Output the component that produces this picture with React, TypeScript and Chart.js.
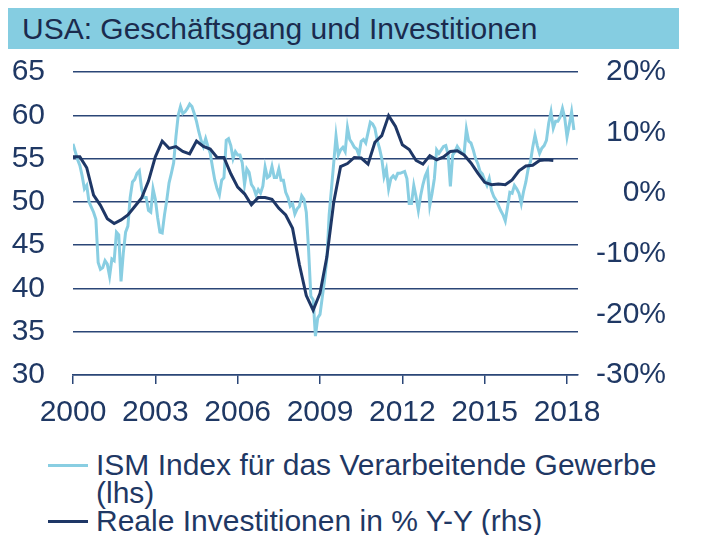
import { useEffect, useRef } from "react";
import { Chart, registerables } from "chart.js";

Chart.register(...registerables);

const TITLE = "USA: Geschäftsgang und Investitionen";
const LABEL_ISM = "ISM Index für das Verarbeitende Gewerbe (lhs)";
const LABEL_INV = "Reale Investitionen in % Y-Y (rhs)";

const START_YEAR = 2000;
const X_MAX = 2018.4;
const xTickYears = [2000, 2003, 2006, 2009, 2012, 2015, 2018];

// ISM manufacturing index, monthly from Jan 2000 (left axis)
const ismMonthly = [
  56.7, 55.8, 54.9, 54.2, 53.0, 51.5, 51.9, 50.0, 49.4, 48.8, 48.0, 43.0,
  42.2, 42.4, 43.2, 42.8, 41.4, 43.4, 43.2, 46.5, 46.2, 40.8, 44.1, 46.5,
  47.2, 50.5, 52.3, 52.6, 53.3, 53.6, 51.5, 50.5, 50.5, 49.0, 48.8, 51.5,
  50.3, 48.2, 46.5, 46.4, 48.5, 50.2, 52.2, 53.3, 54.5, 57.5, 60.0, 61.0,
  60.2, 60.4, 60.8, 61.3, 61.0, 60.2, 59.3, 58.1, 57.1, 56.4, 57.3, 56.4,
  55.6, 54.0, 52.5, 51.5, 50.8, 52.5, 52.8, 57.1, 57.3, 56.5, 55.0, 55.8,
  55.4, 55.4, 54.5, 52.0, 53.8, 53.4, 52.0, 51.6, 50.8, 51.4, 51.0, 51.8,
  54.0, 52.8, 53.0, 54.1, 52.8, 52.8, 53.8, 52.5, 52.5, 51.1, 50.5, 49.5,
  49.8, 48.6, 49.2, 49.5, 50.7, 50.3, 48.8, 44.5, 39.1, 38.7, 34.5, 36.6,
  37.0, 39.0, 41.0, 43.4, 48.5, 51.5, 54.5, 57.6, 55.4, 56.0, 56.3, 55.8,
  58.6, 57.2, 56.8, 56.3, 56.1, 55.4, 57.0, 57.2, 56.8, 58.0, 59.2, 59.0,
  58.5, 57.1, 56.2, 55.0, 52.9, 53.8, 51.5, 52.7, 53.0, 52.7, 53.3, 53.3,
  53.4, 53.5, 52.7, 49.8, 49.8, 51.9, 50.6, 49.0, 50.7, 52.0, 53.0, 53.6,
  49.6, 51.0, 52.7, 56.0, 55.6, 56.0, 56.4, 56.5, 55.5, 51.8, 55.4, 55.8,
  56.4, 56.0, 55.6, 55.6, 58.4, 57.0, 56.8, 56.0, 55.0, 54.4, 53.5, 53.2,
  52.5, 51.9, 52.7, 51.3, 50.6, 50.2, 49.6, 49.0, 48.5, 47.8, 49.4, 51.1,
  51.0, 51.9, 51.5, 51.0, 49.8, 51.2, 52.3, 53.8, 54.6, 56.3, 57.7, 56.5,
  55.6, 56.2, 56.5, 57.1, 59.1, 60.4, 58.5, 59.3, 59.3, 59.8, 60.8, 59.7,
  57.5, 58.9, 60.4, 58.3,
];

// Real investment, % y/y, quarterly from Q1 2000 (right axis)
const investQuarterly = [
  6.0, 6.0, 4.2, -0.3,
  -2.0, -4.2, -5.0, -4.4,
  -3.6, -2.2, -0.8, 2.0,
  6.0, 8.6, 7.4, 7.7,
  6.9, 6.5, 8.6, 7.7,
  7.3, 5.9, 5.9, 3.2,
  1.0, -0.1, -1.9, -0.7,
  -0.7, -1.0, -2.5, -3.6,
  -5.8, -11.8, -16.9, -19.3,
  -16.5, -10.5, -1.5, 4.4,
  4.9, 5.9, 5.8, 4.8,
  8.4, 9.5, 12.8, 11.0,
  8.0, 7.2, 5.4, 4.8,
  6.2, 5.5, 6.0, 6.9,
  7.0, 6.3, 5.0, 3.3,
  1.8, 1.4, 1.5, 1.4,
  2.2, 3.7, 4.5, 4.6,
  5.4, 5.5, 5.4,
];

const NAVY = "#1f3864";
const GRID = "#2b4677";
const LIGHT = "#89cee2";
const DARK = "#1e3766";
const BAR = "#85cde1";
const FONT = "'Liberation Sans', Arial, sans-serif";

export default function App() {
  const ref = useRef<HTMLCanvasElement>(null);

  useEffect(() => {
    if (!ref.current) return;
    const ism = ismMonthly.map((v, i) => ({ x: START_YEAR + i / 12, y: v }));
    const inv = investQuarterly.map((v, i) => ({ x: START_YEAR + i / 4, y: v }));
    const font = { family: FONT, size: 30 };
    const chart = new Chart(ref.current, {
      type: "line",
      data: {
        datasets: [
          {
            label: LABEL_ISM,
            data: ism,
            yAxisID: "yL",
            borderColor: LIGHT,
            backgroundColor: LIGHT,
            borderWidth: 3,
            pointRadius: 0,
            tension: 0,
            order: 2,
          },
          {
            label: LABEL_INV,
            data: inv,
            yAxisID: "yR",
            borderColor: DARK,
            backgroundColor: DARK,
            borderWidth: 3,
            pointRadius: 0,
            tension: 0,
            order: 1,
          },
        ],
      },
      options: {
        animation: false,
        responsive: false,
        maintainAspectRatio: false,
        layout: { padding: { top: 0, right: 33, left: 0, bottom: 0 } },
        plugins: { legend: { display: false }, tooltip: { enabled: false } },
        scales: {
          x: {
            type: "linear",
            min: START_YEAR,
            max: X_MAX,
            afterBuildTicks: (axis: any) => {
              axis.ticks = xTickYears.map((v) => ({ value: v }));
            },
            ticks: {
              callback: (v: any) => String(v),
              font,
              color: NAVY,
              padding: 11,
              maxRotation: 0,
              autoSkip: false,
            },
            grid: {
              drawOnChartArea: false,
              drawTicks: true,
              tickLength: 9,
              color: GRID,
              lineWidth: 1.5,
            },
            border: { display: true, color: GRID, width: 1.5 },
            afterFit: (axis: any) => {
              axis.height = 60;
            },
          },
          yL: {
            type: "linear",
            position: "left",
            min: 30,
            max: 65,
            ticks: { stepSize: 5, font, color: NAVY, padding: 28 },
            grid: { color: GRID, lineWidth: 1.5, drawTicks: false },
            border: { display: false },
            afterFit: (axis: any) => {
              axis.width = 65;
            },
          },
          yR: {
            type: "linear",
            position: "right",
            min: -30,
            max: 20,
            ticks: {
              stepSize: 10,
              callback: (v: any) => v + "%",
              crossAlign: "far",
              font,
              color: NAVY,
            },
            grid: { display: false, drawTicks: false },
            border: { display: false },
            afterFit: (axis: any) => {
              axis.width = 88;
            },
          },
        },
      },
    });
    return () => chart.destroy();
  }, []);

  const text: React.CSSProperties = {
    fontFamily: FONT,
    fontSize: 30,
    lineHeight: "28px",
    color: NAVY,
  };

  return (
    <div style={{ width: 691, position: "relative" }}>
      <div
        style={{
          width: 671,
          height: 41,
          boxSizing: "border-box",
          background: BAR,
          paddingLeft: 14,
          fontFamily: FONT,
          fontSize: 30,
          lineHeight: "41px",
          color: "#1b2b4e",
          whiteSpace: "nowrap",
        }}
      >
        {TITLE}
      </div>
      <canvas
        ref={ref}
        width={691}
        height={409}
        style={{ display: "block", width: 691, height: 409, marginTop: -23, position: "relative" }}
      />
      <div style={{ marginTop: 16 }}>
        <div style={{ display: "flex", alignItems: "flex-start" }}>
          <div style={{ width: 40, height: 3, background: LIGHT, marginLeft: 40, marginTop: 13, flex: "0 0 auto" }} />
          <div style={{ ...text, marginLeft: 8, width: 595 }}>{LABEL_ISM}</div>
        </div>
        <div style={{ display: "flex", alignItems: "flex-start" }}>
          <div style={{ width: 40, height: 3, background: DARK, marginLeft: 40, marginTop: 13, flex: "0 0 auto" }} />
          <div style={{ ...text, marginLeft: 8 }}>{LABEL_INV}</div>
        </div>
      </div>
    </div>
  );
}
